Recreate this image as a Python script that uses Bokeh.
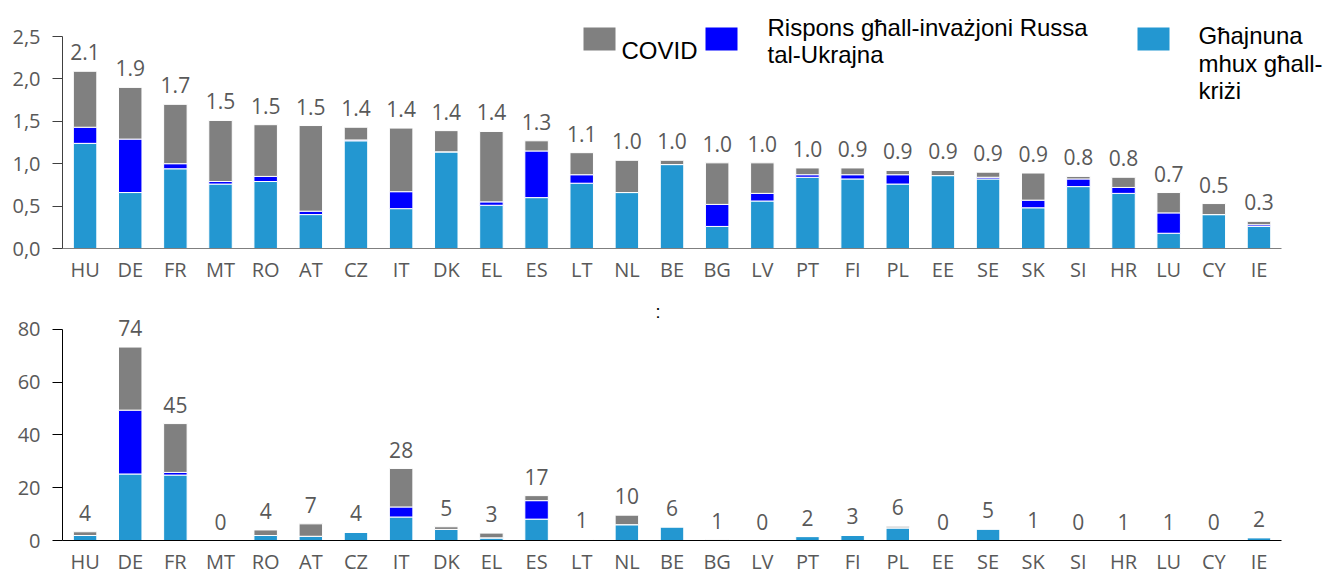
from bokeh.plotting import figure
from bokeh.layouts import column
from bokeh.models import Range1d, FixedTicker, Label, BoxAnnotation, ColumnDataSource
from bokeh.core.properties import value
from bokeh.embed import file_html
from bokeh.resources import INLINE

countries = ["HU", "DE", "FR", "MT", "RO", "AT", "CZ", "IT", "DK", "EL", "ES", "LT", "NL", "BE",
             "BG", "LV", "PT", "FI", "PL", "EE", "SE", "SK", "SI", "HR", "LU", "CY", "IE"]

# Top panel (share of GDP)
gdp_noncrisis = [1.24, 0.66, 0.94, 0.76, 0.79, 0.40, 1.27, 0.47, 1.14, 0.51, 0.60, 0.77, 0.66, 0.99,
                 0.26, 0.56, 0.84, 0.82, 0.76, 0.86, 0.82, 0.48, 0.73, 0.65, 0.18, 0.40, 0.26]
gdp_ukraine = [0.19, 0.63, 0.06, 0.03, 0.06, 0.04, 0.01, 0.20, 0.00, 0.04, 0.55, 0.10, 0.00, 0.00,
               0.26, 0.09, 0.03, 0.05, 0.11, 0.00, 0.02, 0.09, 0.09, 0.07, 0.24, 0.00, 0.02]
gdp_covid = [0.66, 0.61, 0.70, 0.72, 0.61, 1.01, 0.15, 0.75, 0.25, 0.83, 0.12, 0.26, 0.38, 0.05,
             0.49, 0.36, 0.08, 0.08, 0.05, 0.06, 0.06, 0.32, 0.03, 0.12, 0.24, 0.13, 0.04]
gdp_labels = ["2.1", "1.9", "1.7", "1.5", "1.5", "1.5", "1.4", "1.4", "1.4", "1.4", "1.3", "1.1", "1.0", "1.0",
              "1.0", "1.0", "1.0", "0.9", "0.9", "0.9", "0.9", "0.9", "0.8", "0.8", "0.7", "0.5", "0.3"]
gdp_ticks = [0, 0.5, 1.0, 1.5, 2.0, 2.5]
gdp_tick_labels = ["0,0", "0,5", "1,0", "1,5", "2,0", "2,5"]

# Bottom panel (EUR bn)
eur_noncrisis = [1.9, 25.2, 24.8, 0, 1.9, 1.6, 3.1, 8.9, 4.2, 1.0, 8.1, 0.5, 6.0, 5.2,
                 0, 0, 1.5, 2.0, 4.8, 0, 4.4, 0.5, 0, 0, 0, 0, 1.1]
eur_ukraine = [0, 24.2, 1.0, 0, 0, 0, 0, 3.8, 0, 0, 7.0, 0, 0, 0,
               0, 0, 0, 0, 0, 0, 0, 0, 0, 0, 0, 0, 0]
eur_covid = [1.4, 23.9, 18.5, 0, 2.1, 4.7, 0, 14.6, 1.0, 1.8, 1.9, 0, 3.6, 0,
             0.4, 0, 0, 0, 0.6, 0, 0, 0, 0, 0, 0, 0, 0]
eur_labels = ["4", "74", "45", "0", "4", "7", "4", "28", "5", "3", "17", "1", "10", "6",
              "1", "0", "2", "3", "6", "0", "5", "1", "0", "1", "1", "0", "2"]
eur_ticks = [0, 20, 40, 60, 80]
eur_tick_labels = ["0", "20", "40", "60", "80"]

C_NONCRISIS = "#2397D1"
C_UKRAINE = "#0000FF"
C_COVID = "#808080"
colors = [C_NONCRISIS, C_UKRAINE, C_COVID]

FONT = "Open Sans"
TXT = "#595959"

# Geometry (pixels)
W = 1338
FRAME_L, FRAME_R = 62, 8
FRAME_W = W - FRAME_L - FRAME_R
PX_PER_CAT = 45.15
N = len(countries)
xpos = [i + 0.5 for i in range(N)]

TOP_FRAME_H = 238
TOP_PX_PER_UNIT = 84.8
BOT_FRAME_H = 243
BOT_PX_PER_UNIT = 2.65
LABEL_GAP_PX = 19


def style(p, axis_color):
    p.xgrid.visible = False
    p.ygrid.visible = False
    p.outline_line_color = None
    p.xaxis.ticker = FixedTicker(ticks=xpos)
    p.xaxis.major_label_overrides = {x: c for x, c in zip(xpos, countries)}
    p.xaxis.bounds = (0, N)
    p.xaxis.major_tick_line_color = None
    p.xaxis.minor_tick_line_color = None
    p.xaxis.axis_line_color = axis_color
    p.xaxis.major_label_text_font = FONT
    p.xaxis.major_label_text_font_size = "20px"
    p.xaxis.major_label_text_color = TXT
    p.yaxis.minor_tick_line_color = None
    p.yaxis.major_tick_in = 0
    p.yaxis.major_tick_out = 10
    p.yaxis.axis_line_color = axis_color
    p.yaxis.major_tick_line_color = axis_color
    p.yaxis.major_label_standoff = 12
    p.yaxis.major_label_text_font = FONT
    p.yaxis.major_label_text_font_size = "20px"
    p.yaxis.major_label_text_color = TXT


def panel(height, top_border, bottom_border, frame_h, ppu, nc, ua, cv, labels, ticks, tick_labels,
          axis_color, xstandoff):
    totals = [a + b + c for a, b, c in zip(nc, ua, cv)]
    label_y = [t + LABEL_GAP_PX / ppu for t in totals]
    src = ColumnDataSource(dict(x=xpos, nc=nc, ua=ua, cv=cv, ly=label_y, label=labels))
    p = figure(width=W, height=height, x_range=Range1d(0, FRAME_W / PX_PER_CAT),
               y_range=Range1d(0, frame_h / ppu), output_backend="svg", toolbar_location=None,
               min_border_left=FRAME_L, min_border_right=FRAME_R, min_border_top=top_border,
               min_border_bottom=bottom_border, title=None)
    p.vbar_stack(["nc", "ua", "cv"], x="x", width=0.52, color=colors, source=src,
                 line_color="white", line_width=1)
    p.text(x="x", y="ly", text="label", source=src, text_align="center",
           text_baseline="alphabetic", text_font=value(FONT),
           text_font_size="21px", text_color=TXT)
    style(p, axis_color)
    p.xaxis.major_label_standoff = xstandoff
    p.yaxis.ticker = FixedTicker(ticks=ticks)
    p.yaxis.major_label_overrides = {t: l for t, l in zip(ticks, tick_labels)}
    p.yaxis.bounds = (ticks[0], ticks[-1])
    return p


top = panel(10 + TOP_FRAME_H + 42, 10, 42, TOP_FRAME_H, TOP_PX_PER_UNIT,
            gdp_noncrisis, gdp_ukraine, gdp_covid, gdp_labels, gdp_ticks, gdp_tick_labels, "#7f7f7f", 1)
bottom = panel(8 + BOT_FRAME_H + 36, 8, 36, BOT_FRAME_H, BOT_PX_PER_UNIT,
               eur_noncrisis, eur_ukraine, eur_covid, eur_labels, eur_ticks, eur_tick_labels, "#000000", 1)
top.yaxis.axis_line_color = "#404040"
top.yaxis.major_tick_line_color = "#404040"


# pixel -> data helpers for the legend (top frame spans y 10..248, bottom frame y 298..541)
def tx(px):
    return (px - FRAME_L) / PX_PER_CAT


def ty(py):
    return (248 - py) / TOP_PX_PER_UNIT


def by(py):
    return (541 - py) / BOT_PX_PER_UNIT


LEG_FONT = "Liberation Sans"
LEG_SIZE = "24px"
legend_boxes = [(583, 615, C_COVID), (705, 737, C_UKRAINE), (1137, 1169, C_NONCRISIS)]
for l, r, c in legend_boxes:
    top.add_layout(BoxAnnotation(left=tx(l), right=tx(r), top=ty(27), bottom=ty(50),
                                 fill_color=c, fill_alpha=1, line_color=None))

legend_texts = [
    (621, 50, "COVID"),
    (767, 27, "Rispons għall-invażjoni Russa"),
    (767, 54, "tal-Ukrajna"),
    (1198, 35, "Għajnuna"),
    (1198, 63, "mhux għall-"),
    (1198, 90, "kriżi"),
]
for x, y, t in legend_texts:
    top.add_layout(Label(x=tx(x), y=ty(y), text=t, text_font=LEG_FONT, text_font_size=LEG_SIZE,
                         text_color="#000000", text_baseline="alphabetic", text_align="left"))

bottom.add_layout(Label(x=tx(655), y=by(312), text=":", text_font=LEG_FONT, text_font_size="18px",
                        text_color="#000000", text_baseline="alphabetic"))

layout = column(top, bottom, spacing=0)
open("out.html", "w").write(file_html(layout, INLINE))
